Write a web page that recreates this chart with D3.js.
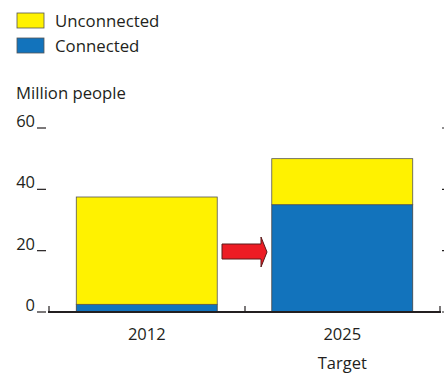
<!DOCTYPE html>
<html lang="en">
<head>
<meta charset="utf-8">
<title>Million people</title>
<script src="https://d3js.org/d3.v7.min.js"></script>
<style>
body { margin: 0; background: #fff; }
text { font-family: "Open Sans", sans-serif; fill: #231f20; }
</style>
</head>
<body>
<svg width="444" height="373"></svg>
<script>
// data
var years = ["2012", "2025"];
var connected = [2.5, 35];
var unconnected = [35, 15];
var yTicks = [0, 20, 40, 60];
var legendLabels = ["Unconnected", "Connected"];

var yellow = "#fff200", blue = "#1273bc";

var svg = d3.select("svg");

var x = d3.scaleBand().domain(years).range([49, 440]).paddingInner(0.279).paddingOuter(0.1395);
var y = d3.scaleLinear().domain([0, 60]).range([312, 128]);

// legend
var leg = svg.append("g");
leg.selectAll("rect").data(legendLabels).enter().append("rect")
  .attr("x", 17).attr("y", function(d, i) { return 13 + i * 25; })
  .attr("width", 27).attr("height", 15)
  .attr("fill", function(d, i) { return i == 0 ? yellow : blue; })
  .attr("stroke", "#555").attr("stroke-width", 0.8);
leg.selectAll("text").data(legendLabels).enter().append("text")
  .attr("x", 55).attr("y", function(d, i) { return 27 + i * 25; })
  .attr("font-size", 16.8).text(function(d) { return d; });

svg.append("text").attr("x", 16).attr("y", 99).attr("font-size", 16.7).text("Million people");

// y ticks left
var yt = svg.append("g");
yt.selectAll("text").data(yTicks).enter().append("text")
  .attr("x", 35).attr("y", function(d) { return y(d) - 1; })
  .attr("text-anchor", "end").attr("font-size", 16.5).text(function(d) { return d; });
yt.selectAll("line.l").data(yTicks).enter().append("line").attr("class", "l")
  .attr("x1", 37).attr("x2", 46)
  .attr("y1", function(d) { return y(d); }).attr("y2", function(d) { return y(d); })
  .attr("stroke", "#231f20").attr("stroke-width", 1.2);
// right ticks
yt.selectAll("line.r").data(yTicks).enter().append("line").attr("class", "r")
  .attr("x1", 442).attr("x2", 450)
  .attr("y1", function(d) { return y(d); }).attr("y2", function(d) { return y(d); })
  .attr("stroke", "#231f20").attr("stroke-width", 1.2);

// bars
var bars = svg.append("g");
bars.selectAll("rect.c").data(years).enter().append("rect").attr("class", "c")
  .attr("x", function(d) { return x(d); }).attr("width", x.bandwidth())
  .attr("y", function(d, i) { return y(connected[i]); })
  .attr("height", function(d, i) { return y(0) - y(connected[i]); })
  .attr("fill", blue).attr("stroke", "#444").attr("stroke-width", 0.8);
bars.selectAll("rect.u").data(years).enter().append("rect").attr("class", "u")
  .attr("x", function(d) { return x(d); }).attr("width", x.bandwidth())
  .attr("y", function(d, i) { return y(connected[i] + unconnected[i]); })
  .attr("height", function(d, i) { return y(connected[i]) - y(connected[i] + unconnected[i]); })
  .attr("fill", yellow).attr("stroke", "#555").attr("stroke-width", 0.8);

// axis line
svg.append("line").attr("x1", 48).attr("x2", 441).attr("y1", 312).attr("y2", 312)
  .attr("stroke", "#231f20").attr("stroke-width", 2);
svg.selectAll("line.xt").data([49, 245, 440]).enter().append("line").attr("class", "xt")
  .attr("x1", function(d) { return d; }).attr("x2", function(d) { return d; })
  .attr("y1", 306).attr("y2", 312).attr("stroke", "#231f20").attr("stroke-width", 1.2);

// x labels
svg.selectAll("text.xl").data(years).enter().append("text").attr("class", "xl")
  .attr("x", function(d) { return x(d) + x.bandwidth() / 2; }).attr("y", 340)
  .attr("text-anchor", "middle").attr("font-size", 16.5).text(function(d) { return d; });
svg.append("text").attr("x", x("2025") + x.bandwidth() / 2).attr("y", 369)
  .attr("text-anchor", "middle").attr("font-size", 16.5).text("Target");

// arrow
svg.append("path")
  .attr("d", "M222,244 L261,244 L261,237 L267,252 L261,267 L261,259 L222,259 Z")
  .attr("fill", "#ed1c24").attr("stroke", "#5a1a1a").attr("stroke-width", 1);
</script>
</body>
</html>
